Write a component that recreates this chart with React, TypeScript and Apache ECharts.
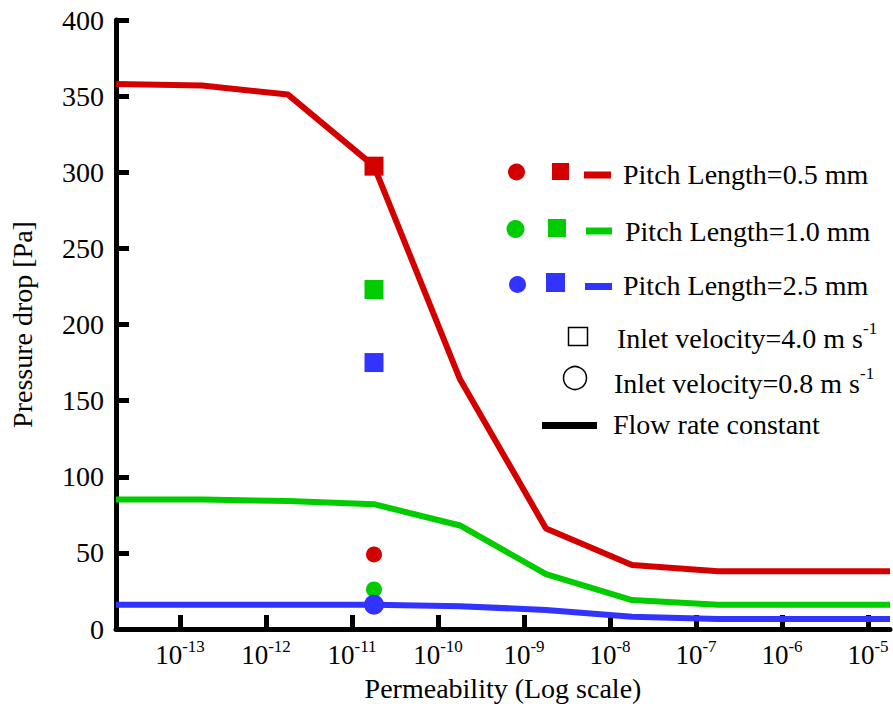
import React, { useEffect, useRef } from "react";
import * as echarts from "echarts";

const permeability = [1.8e-14, 1.8e-13, 1.8e-12, 1.8e-11, 1.8e-10, 1.8e-9, 1.8e-8, 1.8e-7, 1.8e-6, 1.8e-5];
const redLine = [358, 357, 351, 304, 164, 66, 42, 38, 38, 38];
const greenLine = [85, 85, 84, 82, 68, 36, 19, 16, 16, 16];
const blueLine = [16, 16, 16, 16, 15, 12.5, 8, 6.5, 6.5, 6.5];
const markerK = 1.8e-11;
const squareValues = [304, 223, 175]; // red, green, blue (4.0 m/s)
const circleValues = [49, 26, 16]; // red, green, blue (0.8 m/s)
const tickValues = [1e-13, 1e-12, 1e-11, 1e-10, 1e-9, 1e-8, 1e-7, 1e-6, 1e-5];
const legendNames = ["Pitch Length=0.5 mm", "Pitch Length=1.0 mm", "Pitch Length=2.5 mm"];

const RED = "#d40000";
const GREEN = "#00cc00";
const BLUE = "#3333ff";
const colors = [RED, GREEN, BLUE];
const FONT = "'Times New Roman', 'Liberation Serif', Times, serif";
const FS = 28;

export default function App() {
  const ref = useRef<HTMLDivElement>(null);
  useEffect(() => {
    if (!ref.current) return;
    const chart = echarts.init(ref.current, null, { renderer: "svg" });
    const lines = [redLine, greenLine, blueLine];
    const toPts = (arr: number[]) => arr.map((v, i) => [permeability[i], v]);

    const series: any[] = lines.map((arr, i) => ({
      type: "line",
      data: toPts(arr),
      symbol: "none",
      lineStyle: { color: colors[i], width: 6 },
      z: 2 + (2 - i),
    }));
    squareValues.forEach((v, i) => {
      series.push({
        type: "scatter",
        data: [[markerK, v]],
        symbol: "rect",
        symbolSize: 19,
        itemStyle: { color: colors[i], opacity: 1 },
        z: 10,
      });
    });
    circleValues.forEach((v, i) => {
      series.push({
        type: "scatter",
        data: [[markerK, v]],
        symbol: "circle",
        symbolSize: i === 2 ? 20 : 16,
        itemStyle: { color: colors[i], opacity: 1 },
        z: 10,
      });
    });

    const txt = (x: number, y: number, text: string, rich?: any) => ({
      type: "text",
      x,
      y,
      z: 100,
      style: {
        text,
        fill: "#000",
        fontFamily: FONT,
        fontSize: FS,
        verticalAlign: "middle",
        align: "left",
        rich,
      },
    });

    const legendRows = [
      { cy: 172, circleX: 516.5, circleR: 8.5, sqX: 552, sqY: 163, sqS: 17, lx1: 584, lx2: 611, ly: 175, tx: 623, ty: 174 },
      { cy: 229, circleX: 515.5, circleR: 9, sqX: 548, sqY: 219, sqS: 18, lx1: 586, lx2: 612, ly: 231, tx: 625, ty: 231 },
      { cy: 284.5, circleX: 517.5, circleR: 8.5, sqX: 546, sqY: 273, sqS: 19, lx1: 585, lx2: 612, ly: 286.5, tx: 623, ty: 285 },
    ];
    const graphic: any[] = [];
    legendRows.forEach((r, i) => {
      graphic.push({ type: "circle", shape: { cx: r.circleX, cy: r.cy, r: r.circleR }, style: { fill: colors[i] }, z: 100 });
      graphic.push({ type: "rect", shape: { x: r.sqX, y: r.sqY, width: r.sqS, height: r.sqS }, style: { fill: colors[i] }, z: 100 });
      graphic.push({ type: "line", shape: { x1: r.lx1, y1: r.ly, x2: r.lx2, y2: r.ly }, style: { stroke: colors[i], lineWidth: 7 }, z: 100 });
      graphic.push(txt(r.tx, r.ty, legendNames[i]));
    });
    const supRich = {
      a: { fontFamily: FONT, fontSize: FS, lineHeight: 32, verticalAlign: "bottom" },
      s: { fontFamily: FONT, fontSize: 17, lineHeight: 32, verticalAlign: "top" },
    };
    graphic.push({ type: "rect", shape: { x: 568.5, y: 327.5, width: 19, height: 18 }, style: { fill: "none", stroke: "#000", lineWidth: 1.5 }, z: 100 });
    graphic.push(txt(617, 336, "{a|Inlet velocity=4.0 m s}{s|-1}", supRich));
    graphic.push({ type: "circle", shape: { cx: 575, cy: 378, r: 11.5 }, style: { fill: "none", stroke: "#000", lineWidth: 1.5 }, z: 100 });
    graphic.push(txt(614, 381, "{a|Inlet velocity=0.8 m s}{s|-1}", supRich));
    graphic.push({ type: "line", shape: { x1: 542, y1: 425.5, x2: 597, y2: 425.5 }, style: { stroke: "#000", lineWidth: 7 }, z: 100 });
    graphic.push(txt(613, 424, "Flow rate constant"));

    chart.setOption({
      animation: false,
      backgroundColor: "#fff",
      textStyle: { fontFamily: FONT },
      grid: { left: 115, right: 3, top: 20, bottom: 77 },
      xAxis: {
        type: "log",
        logBase: 10,
        min: permeability[0],
        max: permeability[permeability.length - 1],
        name: "Permeability (Log scale)",
        nameLocation: "middle",
        nameGap: 45,
        nameTextStyle: { fontFamily: FONT, fontSize: FS, color: "#000" },
        axisLine: { show: true, onZero: false, lineStyle: { color: "#000", width: 5 } },
        axisTick: { show: true, inside: true, length: 14, lineStyle: { color: "#000", width: 5 }, customValues: tickValues },
        axisLabel: {
          customValues: tickValues,
          margin: 9,
          color: "#000",
          fontFamily: FONT,
          formatter: (v: number) => `{b|10}{s|${Math.round(Math.log10(v))}}`,
          rich: {
            b: { fontFamily: FONT, fontSize: 27, color: "#000", lineHeight: 30, verticalAlign: "bottom" },
            s: { fontFamily: FONT, fontSize: 17, color: "#000", lineHeight: 30, verticalAlign: "top" },
          },
        },
        splitLine: { show: false },
        minorTick: { show: false },
      },
      yAxis: {
        type: "value",
        min: 0,
        max: 400,
        interval: 50,
        name: "Pressure drop [Pa]",
        nameLocation: "middle",
        nameGap: 80,
        nameTextStyle: { fontFamily: FONT, fontSize: FS, color: "#000" },
        axisLine: { show: true, lineStyle: { color: "#000", width: 5 } },
        axisTick: { show: true, inside: true, length: 13, lineStyle: { color: "#000", width: 5 } },
        axisLabel: { margin: 12, color: "#000", fontFamily: FONT, fontSize: FS },
        splitLine: { show: false },
      },
      series,
      graphic,
    });
    return () => chart.dispose();
  }, []);
  return (
    <div style={{ position: "fixed", left: 0, top: 0, width: 893, height: 707, overflow: "hidden", background: "#fff" }}>
      <div ref={ref} style={{ width: 893, height: 707 }} />
    </div>
  );
}
